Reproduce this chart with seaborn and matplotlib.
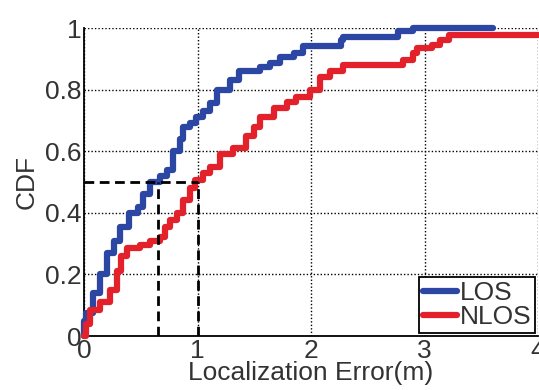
import numpy as np
import pandas as pd
import matplotlib
matplotlib.use("Agg")
import matplotlib.pyplot as plt
import seaborn as sns

sns.set_style("white")
plt.rcParams['font.family'] = ['Liberation Sans', 'DejaVu Sans']

# LOS CDF (step points)
los_x = [0.0, 0.0, 0.02, 0.08, 0.14, 0.20, 0.26, 0.32, 0.40, 0.48, 0.52, 0.58, 0.67, 0.73,
         0.78, 0.85, 0.87, 0.93, 0.99, 1.05, 1.11, 1.17, 1.29, 1.37, 1.55, 1.64, 1.73, 1.85,
         1.93, 2.26, 2.28, 2.77, 2.90, 3.60]
los_y = [0.0, 0.05, 0.075, 0.14, 0.20, 0.27, 0.31, 0.355, 0.40, 0.42, 0.46, 0.50, 0.52, 0.54,
         0.60, 0.64, 0.68, 0.69, 0.71, 0.73, 0.755, 0.80, 0.83, 0.86, 0.875, 0.886, 0.906, 0.92,
         0.94, 0.96, 0.97, 0.99, 1.0, 1.0]

# NLOS CDF
nlos_x = [0.0, 0.02, 0.05, 0.14, 0.23, 0.29, 0.33, 0.38, 0.49, 0.58, 0.67, 0.71, 0.76, 0.82,
          0.87, 0.93, 0.98, 1.05, 1.11, 1.20, 1.31, 1.43, 1.50, 1.55, 1.67, 1.79, 1.87, 1.99,
          2.08, 2.17, 2.28, 2.81, 2.90, 2.93, 3.07, 3.14, 3.22, 4.0]
nlos_y = [0.0, 0.04, 0.085, 0.11, 0.15, 0.21, 0.26, 0.285, 0.295, 0.31, 0.32, 0.355, 0.376, 0.40,
          0.44, 0.48, 0.505, 0.53, 0.55, 0.59, 0.61, 0.65, 0.68, 0.71, 0.74, 0.76, 0.775, 0.80,
          0.84, 0.86, 0.88, 0.896, 0.92, 0.935, 0.945, 0.96, 0.977, 0.977]

# reference guide lines (median markers)
median_level = 0.5
los_median = 0.65
nlos_median = 1.0

x_ticks = [0, 1, 2, 3, 4]
y_ticks = [0, 0.2, 0.4, 0.6, 0.8, 1.0]
y_tick_labels = ["0", "0.2", "0.4", "0.6", "0.8", "1"]

df = pd.concat([
    pd.DataFrame({"x": los_x, "y": los_y, "series": "LOS"}),
    pd.DataFrame({"x": nlos_x, "y": nlos_y, "series": "NLOS"}),
], ignore_index=True)

W, H = 539, 390
FS = 19
fig = plt.figure(figsize=(W / 100, H / 100), dpi=100)
ax = fig.add_axes([84 / W, 1 - 336 / H, (538 - 84) / W, (336 - 28) / H])

palette = {"LOS": "#2b46a3", "NLOS": "#e2212b"}
sns.lineplot(data=df, x="x", y="y", hue="series", palette=palette, ax=ax,
             drawstyle="steps-post", linewidth=4.5, estimator=None, sort=False,
             clip_on=False, zorder=3)

# dashed guide lines
dash_kw = dict(color="black", linewidth=2.0, linestyle=(0, (3.5, 2)), zorder=4)
ax.plot([0, nlos_median], [median_level, median_level], **dash_kw)
ax.plot([los_median, los_median], [0, median_level], **dash_kw)
ax.plot([nlos_median, nlos_median], [0, median_level], **dash_kw)

ax.set_xlim(0, 4)
ax.set_ylim(0, 1)
ax.set_xticks(x_ticks)
ax.set_xticklabels([str(t) for t in x_ticks])
ax.set_yticks(y_ticks)
ax.set_yticklabels(y_tick_labels)

ax.grid(True, color="black", linestyle=(0, (1, 1.5)), linewidth=1.0)
ax.set_axisbelow(True)
for s in ["top", "right"]:
    ax.spines[s].set_visible(False)
for s in ["left", "bottom"]:
    ax.spines[s].set_color("black")
    ax.spines[s].set_linewidth(1.3)

ax.tick_params(axis="both", direction="in", length=4, width=1, colors="black",
               labelsize=FS, labelcolor="#333333", pad=2)

ax.set_xlabel("Localization Error(m)", fontsize=FS, color="#333333", labelpad=-1)
ax.set_ylabel("CDF", fontsize=FS, color="#333333", labelpad=4)

leg = ax.legend(loc="lower right", fontsize=FS, frameon=True, fancybox=False,
                edgecolor="black", framealpha=1, borderaxespad=0.1,
                handlelength=1.3, handletextpad=0.1, labelspacing=0.0,
                borderpad=0.15, title=None)
leg.get_frame().set_linewidth(1.3)
for t in leg.get_texts():
    t.set_color("#333333")

fig.savefig("out.png", dpi=100)
